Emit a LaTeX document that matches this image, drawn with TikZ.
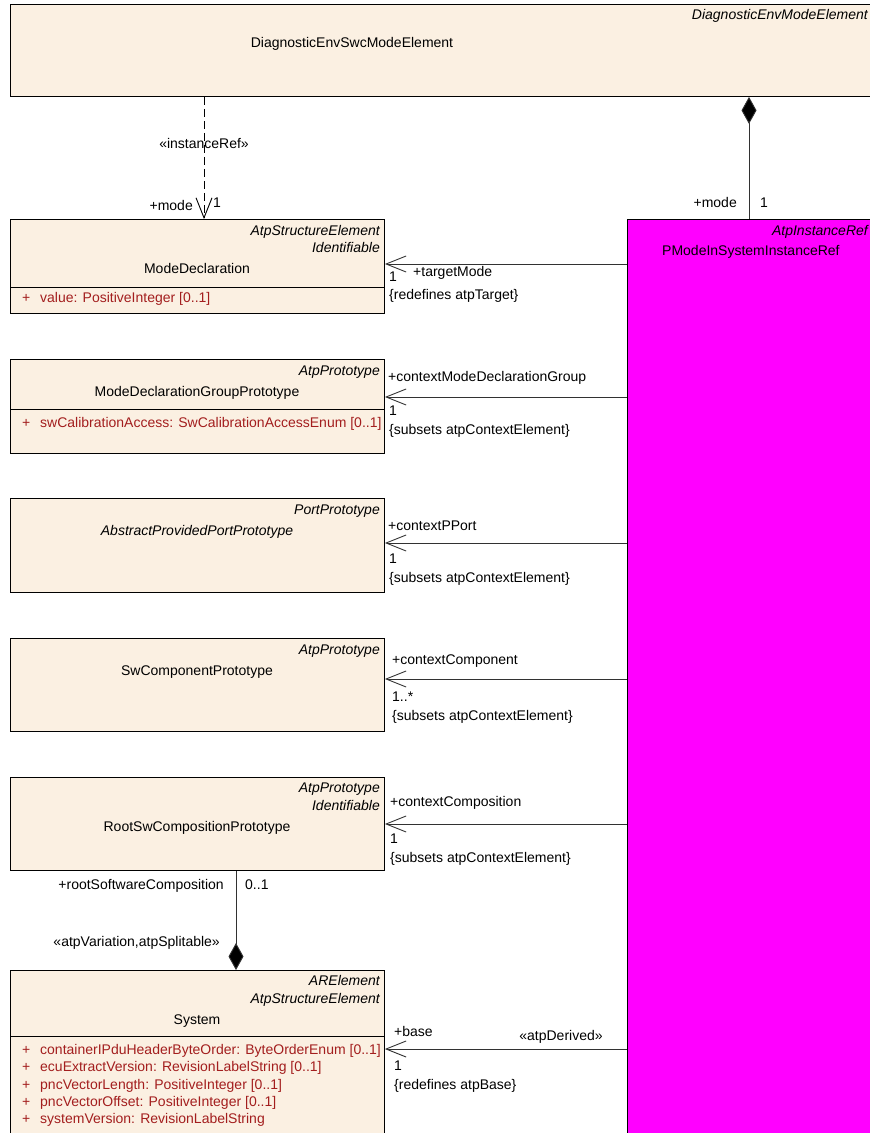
\documentclass[tikz,border=0pt]{standalone}
\usepackage{fontspec}
\setmainfont{Liberation Sans}
\usetikzlibrary{arrows.meta}
\definecolor{cream}{RGB}{251,240,226}
\definecolor{attr}{RGB}{163,30,30}
\definecolor{mag}{RGB}{255,0,255}
\definecolor{ln}{RGB}{50,50,50}
\begin{document}
\begin{tikzpicture}[x=1pt,y=-1pt, font=\fontsize{14}{17}\selectfont,
  cls/.style={draw=black, fill=cream, line width=0.9pt, anchor=north west, inner sep=0pt},
  magbox/.style={draw=black, fill=mag, line width=0.9pt, anchor=north west, inner sep=0pt},
  txt/.style={inner sep=0pt, text height=10pt, text depth=3pt},
  ster/.style={txt, font=\fontsize{14}{17}\selectfont\itshape, anchor=east},
  nm/.style={txt},
  att/.style={txt, text=attr, anchor=west},
  lbl/.style={txt, anchor=west},
  assoc/.style={draw=ln, line width=0.9pt, -{Straight Barb[length=20pt,width=16pt,line width=0.9pt]}},
  dep/.style={draw=black, line width=0.9pt, dash pattern=on 8pt off 4pt, -{Straight Barb[length=20pt,width=16pt,line width=0.9pt,sep=0pt]}},
  comp/.style={draw=ln, line width=0.9pt, {Diamond[length=27pt,width=15pt,fill=black]}-}
]
\clip (0,0) rectangle (870,1133);
\fill[white] (0,0) rectangle (870,1133);

% ---------- boxes ----------
\node[cls, minimum width=880pt, minimum height=92pt] (top) at (10,4) {};
\node[magbox, minimum width=260pt, minimum height=930pt] (pm) at (627,219) {};
\node[cls, minimum width=374pt, minimum height=94pt] (md) at (10,219) {};
\node[cls, minimum width=374pt, minimum height=94pt] (mdgp) at (10,359) {};
\node[cls, minimum width=374pt, minimum height=94pt] (appp) at (10,498) {};
\node[cls, minimum width=374pt, minimum height=93pt] (scp) at (10,638) {};
\node[cls, minimum width=374pt, minimum height=93pt] (rscp) at (10,777) {};
\node[cls, minimum width=374pt, minimum height=180pt] (sys) at (10,970) {};

% separators
\draw[black, line width=0.9pt] (10,287) -- (384,287);
\draw[black, line width=0.9pt] (10,409) -- (384,409);
\draw[black, line width=0.9pt] (10,1036) -- (384,1036);

% ---------- box texts ----------
\node[ster] (s0) at (868,16) {DiagnosticEnvModeElement};
\node[nm] (n0) at (352,44) {DiagnosticEnvSwcModeElement};

\node[ster] (s1a) at (380,232) {AtpStructureElement};
\node[ster] (s1b) at (380,249) {Identifiable};
\node[nm] (n1) at (197,270) {ModeDeclaration};
\node[att] (p1) at (22,299) {+};
\node[att] (a1) at (40,299) {value: PositiveInteger [0..1]};

\node[ster] (s2) at (380,372) {AtpPrototype};
\node[nm] (n2) at (197,393) {ModeDeclarationGroupPrototype};
\node[att] (p2) at (22,424) {+};
\node[att] (a2) at (40,424) {swCalibrationAccess: SwCalibrationAccessEnum [0..1]};

\node[ster] (s3) at (380,511) {PortPrototype};
\node[nm, font=\fontsize{14}{17}\selectfont\itshape] (n3) at (197,532) {AbstractProvidedPortPrototype};

\node[ster] (s4) at (380,651) {AtpPrototype};
\node[nm] (n4) at (197,672) {SwComponentPrototype};

\node[ster] (s5a) at (380,789) {AtpPrototype};
\node[ster] (s5b) at (380,807) {Identifiable};
\node[nm] (n5) at (197,828) {RootSwCompositionPrototype};

\node[ster] (s6a) at (380,982) {ARElement};
\node[ster] (s6b) at (380,1000) {AtpStructureElement};
\node[nm] (n6) at (197,1021) {System};
\node[att] (p6a) at (22,1051) {+};
\node[att] (a6a) at (40,1051) {containerIPduHeaderByteOrder: ByteOrderEnum [0..1]};
\node[att] (p6b) at (22,1068) {+};
\node[att] (a6b) at (40,1068) {ecuExtractVersion: RevisionLabelString [0..1]};
\node[att] (p6c) at (22,1086) {+};
\node[att] (a6c) at (40,1086) {pncVectorLength: PositiveInteger [0..1]};
\node[att] (p6d) at (22,1103) {+};
\node[att] (a6d) at (40,1103) {pncVectorOffset: PositiveInteger [0..1]};
\node[att] (p6e) at (22,1120) {+};
\node[att] (a6e) at (40,1120) {systemVersion: RevisionLabelString};

\node[ster] (s7) at (868,232) {AtpInstanceRef};
\node[lbl] (n7) at (662,252) {PModeInSystemInstanceRef};

% ---------- connector end points ----------
\path (md.north west) ++(194,0) coordinate (mdT);
\path (top.south west) ++(739,0) coordinate (topC);
\path (md.north east) ++(0,45) coordinate (mdA);
\path (mdgp.north east) ++(0,38) coordinate (mdgpA);
\path (appp.north east) ++(0,45) coordinate (apppA);
\path (scp.north east) ++(0,41) coordinate (scpA);
\path (rscp.north east) ++(0,47) coordinate (rscpA);
\path (rscp.south west) ++(226,0) coordinate (rscpB);
\path (sys.north east) ++(0,79) coordinate (sysA);

% ---------- connectors ----------
\draw[dep] (top.south -| mdT) -- (mdT);
\draw[comp] (topC) -- (pm.north -| topC);
\draw[assoc] (pm.west |- mdA) -- (mdA);
\draw[assoc] (pm.west |- mdgpA) -- (mdgpA);
\draw[assoc] (pm.west |- apppA) -- (apppA);
\draw[assoc] (pm.west |- scpA) -- (scpA);
\draw[assoc] (pm.west |- rscpA) -- (rscpA);
\draw[assoc] (pm.west |- sysA) -- (sysA);
\draw[comp] (sys.north -| rscpB) -- (rscpB);

% ---------- connector labels ----------
\node[txt] (l0) at (204,145) {«instanceRef»};
\node[txt, anchor=east] (l1) at (193,207) {+mode};
\node[lbl] (l2) at (213,204) {1};

\node[txt, anchor=east] (l3) at (737,204) {+mode};
\node[lbl] (l4) at (760,204) {1};

\node[lbl] (l5) at (389,278) {1};
\node[lbl] (l6) at (413,273) {+targetMode};
\node[lbl] (l7) at (389,296) {\{redefines atpTarget\}};

\node[lbl] (l8) at (388,378) {+contextModeDeclarationGroup};
\node[lbl] (l9) at (389,412) {1};
\node[lbl] (l10) at (389,431) {\{subsets atpContextElement\}};

\node[lbl] (l11) at (388,527) {+contextPPort};
\node[lbl] (l12) at (389,560) {1};
\node[lbl] (l13) at (389,579) {\{subsets atpContextElement\}};

\node[lbl] (l14) at (392,661) {+contextComponent};
\node[lbl] (l15) at (392,698) {1..*};
\node[lbl] (l16) at (392,717) {\{subsets atpContextElement\}};

\node[lbl] (l17) at (390,803) {+contextComposition};
\node[lbl] (l18) at (390,840) {1};
\node[lbl] (l19) at (390,859) {\{subsets atpContextElement\}};

\node[txt, anchor=east] (l20) at (224,886) {+rootSoftwareComposition};
\node[lbl] (l21) at (245,886) {0..1};
\node[txt, anchor=east] (l22) at (220,943) {«atpVariation,atpSplitable»};

\node[lbl] (l23) at (394,1033) {+base};
\node[lbl] (l24) at (394,1067) {1};
\node[lbl] (l25) at (394,1086) {\{redefines atpBase\}};
\node[txt] (l26) at (561,1037) {«atpDerived»};
\end{tikzpicture}
\end{document}
